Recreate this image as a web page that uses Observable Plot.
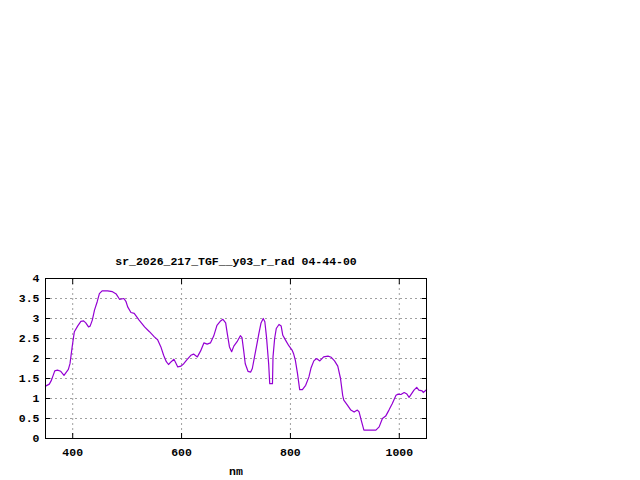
<!DOCTYPE html>
<html>
<head>
<meta charset="utf-8">
<script src="https://cdn.jsdelivr.net/npm/d3@7"></script>
<script src="https://cdn.jsdelivr.net/npm/@observablehq/plot@0.6"></script>
<style>
  html, body { margin: 0; padding: 0; background: #fff; }
  svg { display: block; }
</style>
</head>
<body>
<div id="chart"></div>
<script>
const titleText = "sr_2026_217_TGF__y03_r_rad 04-44-00";
const xLabel = "nm";
const xTicks = [400, 600, 800, 1000];
const yTicks = [0, 0.5, 1, 1.5, 2, 2.5, 3, 3.5, 4];
const yTickLabels = ["0", "0.5", "1", "1.5", "2", "2.5", "3", "3.5", "4"];

const wavelength = [350, 357, 361, 367, 372, 378, 384, 392, 395, 399, 403, 409, 415, 420, 424, 429, 432, 436, 440, 445, 449, 454, 464, 473, 480, 486, 494, 498, 501, 507, 513, 522, 532, 541, 550, 556, 562, 567, 572, 576, 581, 586, 589, 593, 599, 604, 610, 617, 622, 629, 635, 641, 647, 653, 659, 665, 671, 676, 681, 684, 688, 692, 696, 702, 708, 711, 714, 717, 722, 727, 730, 734, 738, 742, 746, 750, 753, 756, 760, 762, 767, 768, 771, 774, 779, 783, 786, 791, 797, 803, 806, 809, 813, 817, 822, 828, 834, 838, 843, 848, 854, 861, 869, 875, 881, 887, 892, 896, 898, 905, 911, 917, 923, 926, 930, 935, 957, 963, 969, 975, 981, 987, 994, 998, 1003, 1009, 1014, 1018, 1023, 1027, 1032, 1036, 1042, 1044, 1050];
const radiance = [1.31, 1.36, 1.46, 1.69, 1.71, 1.68, 1.58, 1.73, 1.87, 2.29, 2.67, 2.81, 2.93, 2.94, 2.89, 2.79, 2.81, 2.96, 3.21, 3.42, 3.62, 3.69, 3.69, 3.67, 3.61, 3.48, 3.50, 3.42, 3.29, 3.15, 3.13, 2.96, 2.79, 2.67, 2.54, 2.47, 2.29, 2.08, 1.92, 1.85, 1.92, 1.98, 1.90, 1.79, 1.81, 1.87, 1.97, 2.08, 2.11, 2.04, 2.19, 2.39, 2.36, 2.39, 2.56, 2.83, 2.93, 2.98, 2.89, 2.62, 2.29, 2.17, 2.31, 2.42, 2.57, 2.52, 2.21, 1.87, 1.68, 1.66, 1.75, 2.04, 2.33, 2.62, 2.89, 3.00, 2.92, 2.54, 1.87, 1.37, 1.37, 2.04, 2.50, 2.75, 2.85, 2.81, 2.58, 2.46, 2.32, 2.21, 2.11, 1.96, 1.62, 1.22, 1.22, 1.33, 1.54, 1.77, 1.94, 2.00, 1.94, 2.04, 2.06, 2.03, 1.94, 1.81, 1.50, 1.08, 0.96, 0.83, 0.71, 0.66, 0.71, 0.67, 0.46, 0.21, 0.21, 0.29, 0.50, 0.56, 0.71, 0.87, 1.08, 1.11, 1.10, 1.15, 1.11, 1.03, 1.13, 1.21, 1.28, 1.21, 1.19, 1.15, 1.22];

const data = wavelength.map((w, i) => ({w, v: radiance[i]}));
const font = "'Liberation Mono', 'DejaVu Sans Mono', monospace";

const chart = Plot.plot({
  width: 640,
  height: 480,
  marginLeft: 45,
  marginRight: 214,
  marginTop: 278,
  marginBottom: 42,
  style: {fontFamily: font, fontSize: "11.5px", fontWeight: "bold", background: "#fff", color: "#000"},
  x: {domain: [350, 1050], label: null},
  y: {domain: [0, 4], label: null},
  marks: [
    Plot.gridX(xTicks, {stroke: "#a0a0a0", strokeOpacity: 1, strokeDasharray: "2,3"}),
    Plot.gridY(yTicks, {stroke: "#a0a0a0", strokeOpacity: 1, strokeDasharray: "2,3"}),
    Plot.axisX(xTicks, {anchor: "bottom", tickSize: 0, tickPadding: 9, label: null, fill: "#000", tickFormat: "d"}),
    Plot.axisY(yTicks, {anchor: "left", tickSize: 0, tickPadding: 6, label: null, fill: "#000", tickFormat: (d) => yTickLabels[yTicks.indexOf(d)]}),
    Plot.axisX(xTicks, {anchor: "bottom", tickSize: -5, text: null, label: null, stroke: "#000"}),
    Plot.axisX(xTicks, {anchor: "top", tickSize: -5, text: null, label: null, stroke: "#000"}),
    Plot.axisY(yTicks, {anchor: "left", tickSize: -5, text: null, label: null, stroke: "#000"}),
    Plot.axisY(yTicks, {anchor: "right", tickSize: -5, text: null, label: null, stroke: "#000"}),
    Plot.line(data, {x: "w", y: "v", stroke: "#9400d3", strokeWidth: 1.2, curve: "linear"}),
    Plot.frame({stroke: "#000", strokeWidth: 1}),
    Plot.text([titleText], {frameAnchor: "top", lineAnchor: "middle", dy: -17.5, fill: "#000"}),
    Plot.text([xLabel], {frameAnchor: "bottom", lineAnchor: "middle", dy: 33, fill: "#000"})
  ]
});
document.getElementById("chart").appendChild(chart);
</script>
</body>
</html>
